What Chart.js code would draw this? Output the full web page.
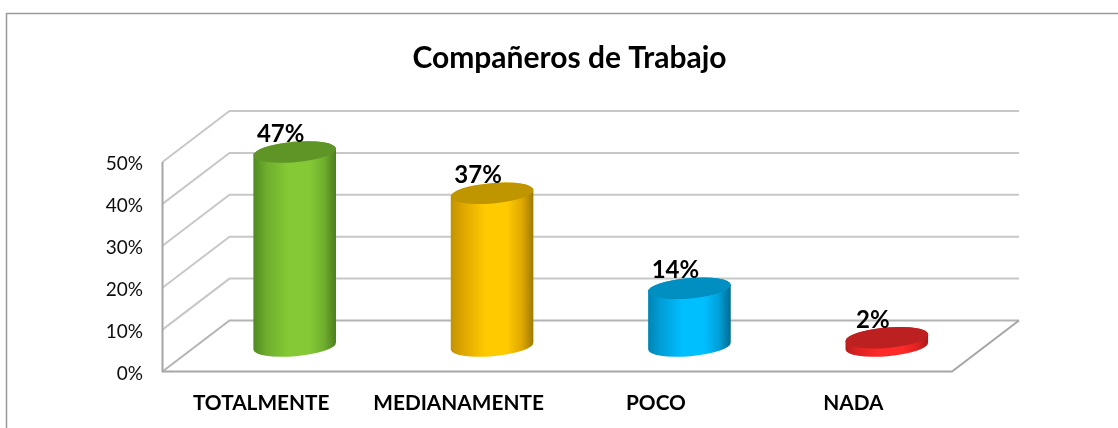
<!DOCTYPE html>
<html>
<head>
<meta charset="utf-8">
<style>html,body{margin:0;padding:0;background:#fff}canvas{display:block}</style>
<script src="https://cdn.jsdelivr.net/npm/chart.js@4"></script>
</head>
<body>
<canvas id="c" width="1118" height="428"></canvas>
<script>
const categories = ['TOTALMENTE', 'MEDIANAMENTE', 'POCO', 'NADA'];
const values = [47, 37, 14, 2];
const yTicks = [0, 10, 20, 30, 40, 50];
const titleText = 'Compañeros de Trabajo';

const midColors  = ['#85c936', '#ffca00', '#00bfff', '#ff2b2b'];
const sideColors = ['#6ead2d', '#e0a800', '#009fd8', '#e02222'];
const leftEdge   = ['#4f8a20', '#c29200', '#0084b4', '#b41e1e'];
const rightEdge  = ['#4c7c1c', '#9c7a00', '#006a90', '#a81a1a'];
const topColors  = ['#5f9526', '#bf9500', '#008fc0', '#bc2020'];

const FONT = 'Lato, Carlito, Calibri, sans-serif';
const DX = 67, DY = 51;
const HEIGHT_SCALE = 0.985;

const scene = {
  id: 'scene',
  beforeDraw(chart) {
    const { ctx, width, height } = chart;
    ctx.save();
    ctx.fillStyle = '#fff';
    ctx.fillRect(0, 0, width, height);
    ctx.strokeStyle = '#9a9a9a';
    ctx.lineWidth = 1.5;
    ctx.beginPath();
    ctx.moveTo(width, 13.5);
    ctx.lineTo(6.5, 13.5);
    ctx.lineTo(6.5, height);
    ctx.stroke();
    ctx.restore();
  },
  beforeDatasetsDraw(chart) {
    const { ctx, chartArea: a, scales: { y } } = chart;
    ctx.save();
    ctx.lineWidth = 2;
    yTicks.forEach(v => {
      const p = y.getPixelForValue(v);
      ctx.strokeStyle = v === 0 ? '#b4b4b4' : '#c8c8c8';
      ctx.beginPath();
      ctx.moveTo(a.left, p);
      ctx.lineTo(a.left + DX, p - DY);
      ctx.lineTo(a.right + DX, p - DY);
      ctx.stroke();
    });
    const p0 = y.getPixelForValue(0), pTop = y.getPixelForValue(50);
    ctx.strokeStyle = '#a6a6a6';
    ctx.beginPath();
    ctx.moveTo(a.left, pTop);
    ctx.lineTo(a.left, p0);
    ctx.lineTo(a.right, p0);
    ctx.lineTo(a.right + DX, p0 - DY);
    ctx.stroke();
    ctx.restore();
  },
  beforeDatasetDraw(chart, args) {
    const { ctx } = chart;
    const bars = chart.getDatasetMeta(args.index).data;
    const tilt = -0.085, ry = 10.2;
    bars.forEach((bar, i) => {
      const cx = bar.x + DX / 2;
      const rx = bar.width / 2;
      const baseY = bar.base - DY / 2;
      const topY = baseY - (bar.base - bar.y) * HEIGHT_SCALE;
      const g = ctx.createLinearGradient(cx - rx, 0, cx + rx, 0);
      g.addColorStop(0, leftEdge[i]);
      g.addColorStop(0.16, sideColors[i]);
      g.addColorStop(0.42, midColors[i]);
      g.addColorStop(0.68, midColors[i]);
      g.addColorStop(0.86, sideColors[i]);
      g.addColorStop(1, rightEdge[i]);
      ctx.save();
      ctx.fillStyle = g;
      ctx.beginPath();
      ctx.ellipse(cx, baseY, rx, ry, tilt, 0, Math.PI);
      ctx.ellipse(cx, topY, rx, ry, tilt, Math.PI, Math.PI * 2);
      ctx.closePath();
      ctx.fill();
      ctx.fillStyle = topColors[i];
      ctx.beginPath();
      ctx.ellipse(cx, topY, rx, ry, tilt, 0, Math.PI * 2);
      ctx.fill();
      ctx.restore();
    });
    return false;
  },
  afterDatasetsDraw(chart) {
    const { ctx } = chart;
    const bars = chart.getDatasetMeta(0).data;
    ctx.save();
    ctx.fillStyle = '#000';
    ctx.font = 'bold 24px ' + FONT;
    ctx.textAlign = 'center';
    ctx.textBaseline = 'alphabetic';
    bars.forEach((bar, i) => {
      const topY = bar.base - DY / 2 - (bar.base - bar.y) * HEIGHT_SCALE;
      ctx.fillText(values[i] + '%', bar.x + DX / 2 - 14, topY - 10);
    });
    ctx.restore();
  }
};

new Chart(document.getElementById('c'), {
  type: 'bar',
  data: {
    labels: categories,
    datasets: [{
      label: titleText,
      data: values,
      backgroundColor: midColors,
      categoryPercentage: 1,
      barPercentage: 0.42
    }]
  },
  options: {
    responsive: false,
    animation: false,
    layout: { padding: { left: 21, right: 0, top: 0, bottom: 0 } },
    plugins: {
      legend: { display: false },
      tooltip: { enabled: false },
      title: {
        display: true,
        text: titleText,
        color: '#000',
        font: { family: FONT, size: 30, weight: 'bold' },
        padding: { top: 40, bottom: 86 }
      }
    },
    scales: {
      x: {
        grid: { display: false, drawTicks: false },
        border: { display: false },
        ticks: {
          color: '#000',
          padding: 19,
          maxRotation: 0,
          autoSkip: false,
          font: { family: FONT, size: 20.8, weight: 'bold' }
        },
        afterFit(s) { s.height = 56.5; }
      },
      y: {
        min: 0,
        max: 50,
        afterBuildTicks(s) { s.ticks = yTicks.map(value => ({ value })); },
        grid: { display: false, drawTicks: false },
        border: { display: false },
        ticks: {
          color: '#0d0d0d',
          padding: 19.5,
          labelOffset: 2,
          font: { family: FONT, size: 19 },
          callback: v => v + '%'
        },
        afterFit(s) { s.width = 141.5; }
      },
      yRight: {
        position: 'right',
        display: true,
        grid: { display: false, drawTicks: false },
        border: { display: false },
        ticks: { display: false },
        afterFit(s) { s.width = 166; }
      }
    }
  },
  plugins: [scene]
});
</script>
</body>
</html>
